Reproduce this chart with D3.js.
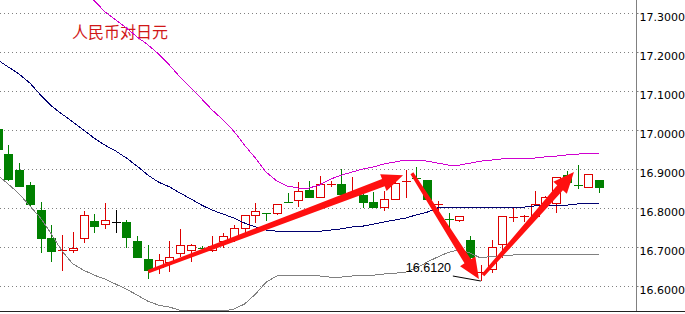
<!DOCTYPE html>
<html>
<head>
<meta charset="utf-8">
<script src="https://cdn.jsdelivr.net/npm/d3@7"></script>
<style>
  body { margin: 0; background: #fff; }
  svg { display: block; }
</style>
</head>
<body>
<svg id="chart" width="685" height="314"></svg>
<script>
// daily candles, CNY/JPY
let open  = [17.003,16.938,16.897,16.859,16.794,16.723,16.690,16.693,16.722,16.766,16.758,16.763,16.763,16.715,16.668,16.647,16.660,16.683,16.691,16.697,
             16.693,16.716,16.722,16.747,16.781,16.787,16.788,16.816,16.820,16.846,16.827,16.860,16.861,16.833,16.833,16.816,16.801,16.822,16.868,16.877,
             16.872,16.808,16.771,16.770,16.717,16.635,16.642,16.706,16.776,16.779,16.779,16.812,16.812,16.884,16.860,16.853,16.872];
let high  = [17.005,16.962,16.916,16.867,16.816,16.756,16.730,16.737,16.793,16.784,16.813,16.794,16.769,16.728,16.704,16.681,16.715,16.745,16.706,16.702,
             16.728,16.736,16.756,16.782,16.813,16.787,16.809,16.837,16.866,16.870,16.882,16.870,16.900,16.880,16.841,16.841,16.844,16.880,16.897,16.906,
             16.872,16.818,16.787,16.780,16.728,16.653,16.717,16.779,16.799,16.782,16.844,16.830,16.880,16.895,16.910,16.887,16.872];
let low   = [16.949,16.869,16.854,16.803,16.685,16.662,16.638,16.685,16.709,16.736,16.745,16.736,16.697,16.673,16.617,16.629,16.636,16.674,16.662,16.692,
             16.687,16.696,16.713,16.730,16.762,16.766,16.781,16.813,16.803,16.827,16.827,16.853,16.835,16.833,16.799,16.799,16.793,16.822,16.826,16.867,
             16.822,16.784,16.743,16.764,16.666,16.612,16.633,16.670,16.764,16.764,16.779,16.810,16.786,16.867,16.848,16.850,16.837];
let close = [16.951,16.874,16.855,16.810,16.723,16.690,16.692,16.696,16.781,16.754,16.769,16.763,16.726,16.674,16.640,16.666,16.673,16.704,16.704,16.695,
             16.703,16.728,16.747,16.781,16.791,16.784,16.809,16.815,16.844,16.829,16.861,16.861,16.835,16.841,16.816,16.801,16.822,16.863,16.870,16.875,
             16.822,16.809,16.770,16.780,16.674,16.636,16.700,16.779,16.777,16.780,16.810,16.829,16.880,16.867,16.859,16.887,16.853];

// bollinger bands
let upper  = [17.476,17.463,17.452,17.437,17.406,17.395,17.386,17.375,17.358,17.332,17.304,17.283,17.262,17.239,17.219,17.195,17.167,17.136,17.108,17.080,
              17.051,17.026,16.997,16.961,16.928,16.892,16.869,16.856,16.851,16.851,16.859,16.874,16.884,16.892,16.900,16.905,16.913,16.918,16.923,16.923,
              16.920,16.915,16.910,16.910,16.915,16.920,16.923,16.926,16.926,16.928,16.928,16.931,16.933,16.936,16.938,16.941,16.941];
let middle = [17.180,17.162,17.144,17.121,17.090,17.062,17.041,17.021,17.000,16.979,16.961,16.946,16.928,16.907,16.884,16.866,16.854,16.838,16.823,16.807,
              16.794,16.784,16.774,16.761,16.751,16.743,16.740,16.738,16.738,16.738,16.740,16.743,16.746,16.751,16.753,16.758,16.764,16.769,16.774,16.782,
              16.789,16.800,16.802,16.802,16.802,16.800,16.800,16.800,16.802,16.802,16.805,16.805,16.807,16.807,16.810,16.810,16.810];
let lower  = [16.884,16.861,16.836,16.805,16.774,16.733,16.689,16.656,16.640,16.627,16.617,16.604,16.591,16.576,16.560,16.550,16.545,16.537,16.535,16.535,
              16.535,16.535,16.540,16.553,16.578,16.609,16.625,16.627,16.627,16.627,16.625,16.622,16.622,16.625,16.627,16.627,16.630,16.632,16.635,16.645,
              16.661,16.674,16.686,16.692,16.684,16.671,16.676,16.676,16.679,16.679,16.679,16.681,16.681,16.681,16.681,16.679,16.679];

let tickVals = [16.6, 16.7, 16.8, 16.9, 17.0, 17.1, 17.2, 17.3];
let title = '人民币对日元';

// hand drawn arrows: [from index, from price, to index, to price]
let arrows = [[14.03, 16.636, 37.75, 16.884],
              [38.58, 16.889, 44.82, 16.617],
              [45.20, 16.627, 53.67, 16.892]];
let lowMark = { i: 45, price: 16.612, label: '16.6120' };

let W = 685, H = 314;
let plotRight = 636, plotBottom = 311;

let svg = d3.select('#chart');

let x = d3.scaleLinear().domain([0, open.length - 1]).range([-2.4, 599]);
let y = d3.scaleLinear().domain([16.6, 17.3]).range([285.7, 13.3]);

svg.append('defs').append('clipPath').attr('id', 'plot')
  .append('rect').attr('x', 0).attr('y', 0).attr('width', plotRight).attr('height', plotBottom);

// grid
svg.append('g').selectAll('line').data(tickVals).enter().append('line')
  .attr('x1', 0).attr('x2', plotRight)
  .attr('y1', d => Math.round(y(d)) + 0.5).attr('y2', d => Math.round(y(d)) + 0.5)
  .attr('stroke', '#808080').attr('stroke-dasharray', '1,3');

// right axis
let axis = svg.append('g')
  .attr('transform', 'translate(' + (plotRight + 0.5) + ',0)')
  .call(d3.axisRight(y).tickValues(tickVals).tickFormat(d3.format('.4f')).tickSize(2).tickPadding(1))
  .call(g => g.select('.domain').remove());
axis.selectAll('.tick').attr('transform', d => 'translate(0,' + (Math.round(y(d)) + 0.5) + ')');
axis.selectAll('line').attr('stroke', '#808080');
axis.selectAll('text')
  .attr('dy', '0.68em')
  .attr('fill', '#000')
  .style('font-family', 'DejaVu Sans, sans-serif')
  .style('font-size', '11px');

svg.append('line')
  .attr('x1', plotRight + 0.5).attr('x2', plotRight + 0.5).attr('y1', 0).attr('y2', plotBottom)
  .attr('stroke', '#808080');
svg.append('line')
  .attr('x1', 0).attr('x2', W).attr('y1', plotBottom + 0.5).attr('y2', plotBottom + 0.5)
  .attr('stroke', '#222');

// title
svg.append('text')
  .attr('x', 72).attr('y', 38)
  .attr('fill', '#d01818')
  .style('font-family', 'Noto Sans CJK SC, sans-serif')
  .style('font-size', '16px')
  .text(title);

let plot = svg.append('g').attr('clip-path', 'url(#plot)');

// candles
let candles = d3.range(open.length).map(i => ({
  i: i, o: open[i], h: high[i], l: low[i], c: close[i]
}));
let colorOf = d => d.c > d.o ? '#dd0000' : (d.c < d.o ? '#008000' : '#000');

let cg = plot.append('g').attr('shape-rendering', 'crispEdges')
  .selectAll('g').data(candles).enter().append('g');
cg.each(function (d) {
  let g = d3.select(this);
  let cx = Math.round(x(d.i)) + 0.5;
  let col = colorOf(d);
  let yt = Math.round(y(Math.max(d.o, d.c)));
  let yb = Math.round(y(Math.min(d.o, d.c)));
  g.append('line')
    .attr('x1', cx).attr('x2', cx)
    .attr('y1', Math.round(y(d.h))).attr('y2', Math.round(y(d.l)))
    .attr('stroke', col);
  if (yb - yt < 2) {
    g.append('line')
      .attr('x1', cx - 4.5).attr('x2', cx + 4.5)
      .attr('y1', yt + 0.5).attr('y2', yt + 0.5)
      .attr('stroke', col);
  } else {
    g.append('rect')
      .attr('x', cx - 4).attr('y', yt + 0.5)
      .attr('width', 8).attr('height', yb - yt)
      .attr('fill', d.c > d.o ? '#fff' : col)
      .attr('stroke', col);
  }
});

// bands
let line = d3.line().x((d, i) => x(i)).y(d => y(d));
let bands = plot.append('g').attr('fill', 'none').attr('stroke-width', 1)
  .attr('shape-rendering', 'optimizeSpeed');
bands.append('path').datum(upper).attr('d', line).attr('stroke', '#d000d0');
bands.append('path').datum(middle).attr('d', line).attr('stroke', '#000070');
bands.append('path').datum(lower).attr('d', line).attr('stroke', '#808080');

// low label
let lx = x(lowMark.i), ly = y(lowMark.price);
plot.append('line')
  .attr('x1', lx - 28).attr('y1', ly - 5).attr('x2', lx).attr('y2', ly)
  .attr('stroke', '#000');
plot.append('text')
  .attr('x', lx - 75).attr('y', ly - 9)
  .attr('fill', '#000')
  .style('font-family', 'Liberation Sans, Arial, sans-serif')
  .style('font-size', '12.5px')
  .text(lowMark.label);

// arrows
function arrowPoints(a) {
  let x0 = x(a[0]), y0 = y(a[1]), x1 = x(a[2]), y1 = y(a[3]);
  let dx = x1 - x0, dy = y1 - y0, len = Math.sqrt(dx * dx + dy * dy);
  let ux = dx / len, uy = dy / len, nx = -uy, ny = ux;
  let headLen = 21, headW = 9, w0 = 1.7, w1 = 3.8;
  let bx = x1 - ux * headLen, by = y1 - uy * headLen;
  return [
    [x0 + nx * w0, y0 + ny * w0],
    [bx + nx * w1, by + ny * w1],
    [bx + nx * headW, by + ny * headW],
    [x1, y1],
    [bx - nx * headW, by - ny * headW],
    [bx - nx * w1, by - ny * w1],
    [x0 - nx * w0, y0 - ny * w0]
  ];
}
svg.append('g').selectAll('polygon').data(arrows).enter().append('polygon')
  .attr('points', d => arrowPoints(d).map(p => p.join(',')).join(' '))
  .attr('fill', '#ff1010');
</script>
</body>
</html>
